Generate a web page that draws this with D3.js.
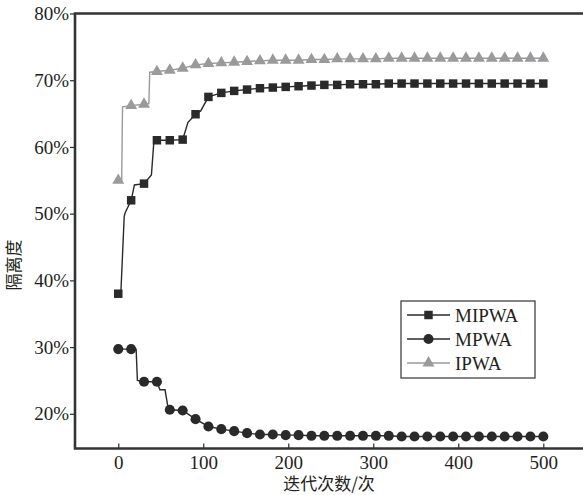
<html>
<head>
<meta charset="utf-8">
<script src="https://d3js.org/d3.v7.min.js"></script>
<style>
body { margin: 0; background: #fff; }
svg { display: block; }
.tick text { font-family: "Liberation Serif", serif; font-size: 19px; fill: #231f20; }
</style>
</head>
<body>
<svg id="chart" width="583" height="495"></svg>
<script>

// ---- data ----
var seriesNames = ["MIPWA", "MPWA", "IPWA"]
var markerCount = 34
var yTicks = [20, 30, 40, 50, 60, 70, 80]
var xTicks = [0, 100, 200, 300, 400, 500]

// values at the marker positions (%)
var mipwa = [38.0, 52.0, 54.5, 61.0, 61.0, 61.1, 64.9, 67.5, 68.1, 68.4, 68.6, 68.8,
	68.9, 69.0, 69.1, 69.2, 69.3, 69.3, 69.4, 69.4, 69.4, 69.5, 69.5, 69.5, 69.5, 69.5,
	69.5, 69.5, 69.5, 69.5, 69.5, 69.5, 69.5, 69.5]
var mpwa = [29.7, 29.7, 24.8, 24.8, 20.6, 20.5, 19.2, 18.1, 17.7, 17.4, 17.1, 16.9,
	16.9, 16.8, 16.8, 16.7, 16.7, 16.7, 16.7, 16.7, 16.7, 16.7, 16.6, 16.6, 16.6, 16.6,
	16.6, 16.6, 16.6, 16.6, 16.6, 16.6, 16.6, 16.6]
var ipwa = [55.0, 66.2, 66.4, 71.3, 71.5, 71.8, 72.3, 72.5, 72.6, 72.7, 72.8, 72.9,
	73.0, 73.0, 73.0, 73.1, 73.1, 73.2, 73.2, 73.2, 73.2, 73.3, 73.3, 73.3, 73.3, 73.3,
	73.3, 73.3, 73.3, 73.3, 73.3, 73.3, 73.3, 73.3]

// extra step points of the lines between markers [iteration, %]
var mipwaSteps = [[3, 38.0], [7, 49.6], [8, 50.1], [19, 54.3], [39, 55.8], [42, 61.0], [82, 63.7], [97, 65.4]]
var mpwaSteps = [[21, 29.7], [22.5, 25.0], [49, 23.6], [55, 23.6], [59, 20.6]]
var ipwaSteps = [[4, 55.0], [5, 66.0], [36, 66.5], [37, 71.2]]

var markerIter = d3.range(markerCount).map(i => i * 500 / (markerCount - 1))

var svg = d3.select("#chart"),
	margin = {top: 13.5, left: 75, bottom: 46.5, right: 0},
	width = +svg.attr("width"),
	height = +svg.attr("height");

var x = d3.scaleLinear()
	.domain([-50.9, 546.7])
	.range([margin.left, width - margin.right])

var y = d3.scaleLinear()
	.domain([14.8, 80])
	.range([height - margin.bottom, margin.top])

var ink = "#2b2a2a", grey = "#9a9a9c"

// axes
svg.append("g")
	.attr("transform", `translate(0,${height - margin.bottom})`)
	.call(d3.axisBottom(x).tickValues(xTicks).tickSizeInner(-5).tickSizeOuter(0).tickPadding(7))
	.call(g => g.select(".domain").remove())
	.call(g => g.selectAll(".tick line").attr("stroke", ink).attr("stroke-width", 1.2))

svg.append("g")
	.attr("transform", `translate(${margin.left},0)`)
	.call(d3.axisLeft(y).tickValues(yTicks).tickFormat(d => d + "%").tickSize(5).tickPadding(1))
	.call(g => g.select(".domain").remove())
	.call(g => g.selectAll(".tick line").attr("stroke", ink).attr("stroke-width", 1.2))

// frame (left, top, bottom)
svg.append("path")
	.attr("d", `M${width},${y(80)}H${x.range()[0]}V${y(14.8)}H${width}`)
	.attr("fill", "none")
	.attr("stroke", "#333")
	.attr("stroke-width", 2.6)

var series = [
	{name: "MIPWA", vals: mipwa, steps: mipwaSteps, color: ink, sym: d3.symbolSquare, size: 72},
	{name: "MPWA", vals: mpwa, steps: mpwaSteps, color: ink, sym: d3.symbolCircle, size: 80},
	{name: "IPWA", vals: ipwa, steps: ipwaSteps, color: grey, sym: d3.symbolTriangle, size: 62}
]

var line = d3.line().x(d => x(d[0])).y(d => y(d[1]))

series.forEach(s => {
	var pts = markerIter.map((t, i) => [t, s.vals[i]]).concat(s.steps)
	pts.sort((a, b) => a[0] - b[0])
	svg.append("path")
		.attr("d", line(pts))
		.attr("fill", "none")
		.attr("stroke", s.color)
		.attr("stroke-width", 1.4)
	svg.append("g").selectAll("path")
		.data(markerIter.map((t, i) => [t, s.vals[i]]))
		.join("path")
		.attr("transform", d => `translate(${x(d[0])},${y(d[1])})`)
		.attr("d", d3.symbol().type(s.sym).size(s.size))
		.attr("fill", s.color)
})

// legend
var lg = svg.append("g").attr("transform", "translate(401,301)")
lg.append("rect")
	.attr("width", 134).attr("height", 77)
	.attr("fill", "#fff").attr("stroke", "#333").attr("stroke-width", 1.2)

var row = lg.selectAll(".row").data(series).join("g")
	.attr("transform", (d, i) => `translate(0,${14 + i * 24})`)
row.append("line")
	.attr("x1", 6).attr("x2", 49)
	.attr("stroke", d => d.color).attr("stroke-width", 1.4)
row.append("path")
	.attr("transform", "translate(27.5,0)")
	.attr("d", d => d3.symbol().type(d.sym).size(d.size)())
	.attr("fill", d => d.color)
row.append("text")
	.attr("x", 54).attr("dy", "0.35em")
	.attr("font-family", "Liberation Serif, serif").attr("font-size", 19)
	.attr("fill", "#231f20")
	.text(d => d.name)

// axis titles
svg.append("text")
	.attr("x", (margin.left + width) / 2).attr("y", 490)
	.attr("text-anchor", "middle")
	.attr("font-family", "Noto Sans CJK SC").attr("font-size", 17)
	.attr("fill", "#231f20")
	.text("迭代次数/次")

svg.append("text")
	.attr("transform", "translate(20,265) rotate(-90)")
	.attr("text-anchor", "middle")
	.attr("font-family", "Noto Sans CJK SC").attr("font-size", 17)
	.attr("fill", "#231f20")
	.text("隔离度")

</script>
</body>
</html>
